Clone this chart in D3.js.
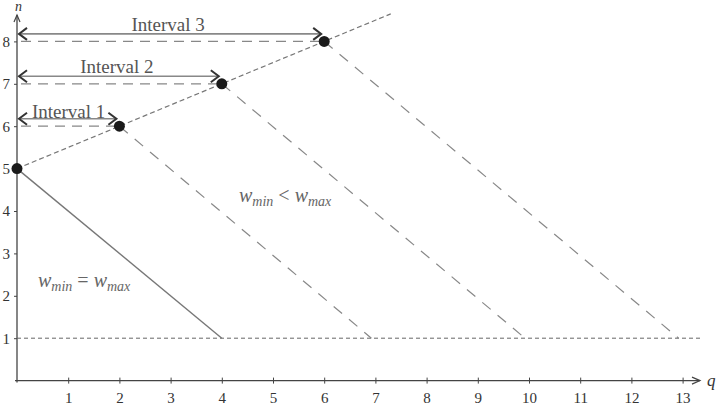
<!DOCTYPE html>
<html>
<head>
<meta charset="utf-8">
<script src="https://cdn.jsdelivr.net/npm/d3@7"></script>
<style>
body { margin: 0; background: #fff; }
svg { display: block; }
svg text { font-family: "Liberation Serif", "Times New Roman", Times, serif; }
.tick text { font-size: 15px; fill: #333; }
</style>
</head>
<body>
<div id="chart"></div>
<script>
// values
var qTicks = [1, 2, 3, 4, 5, 6, 7, 8, 9, 10, 11, 12, 13];
var nTicks = [1, 2, 3, 4, 5, 6, 7, 8];
var pointQ = [0, 2, 4, 6];
var pointN = [5, 6, 7, 8];
var endQ = [4, 7, 10, 13];   // where each line reaches n = 1
var intervalNames = ["Interval 1", "Interval 2", "Interval 3"];
var riseEnd = [7.3, 8.65];   // end of the dotted rising line
var floorN = 1;

var width = 726, height = 413;

var x = d3.scaleLinear().domain([0, 13]).range([17, 17 + 51.2 * 13]);
var y = d3.scaleLinear().domain([0, 8]).range([380.6, 380.6 - 42.4 * 8]);

var svg = d3.select("#chart").append("svg")
    .attr("width", width)
    .attr("height", height);

// x axis
var xAxis = svg.append("g")
    .attr("transform", "translate(0," + y(0) + ")")
    .call(d3.axisBottom(x).tickValues(qTicks).tickSize(3).tickPadding(9).tickFormat(d3.format("d")));
xAxis.select(".domain").remove();
xAxis.selectAll(".tick line").attr("stroke", "#444").attr("y1", -3).attr("y2", 3);

// y axis
var yAxis = svg.append("g")
    .attr("transform", "translate(" + x(0) + ",0)")
    .call(d3.axisLeft(y).tickValues(nTicks).tickSize(3).tickPadding(4).tickFormat(d3.format("d")));
yAxis.select(".domain").remove();
yAxis.selectAll(".tick line").attr("stroke", "#444");

// axis lines with arrows
svg.append("line")
    .attr("x1", x(0) - 2).attr("x2", 700)
    .attr("y1", y(0)).attr("y2", y(0))
    .attr("stroke", "#444").attr("stroke-width", 1.3);
svg.append("path")
    .attr("d", "M692," + (y(0) - 3.5) + "L700," + y(0) + "L692," + (y(0) + 3.5))
    .attr("fill", "none").attr("stroke", "#444").attr("stroke-width", 1.2);
svg.append("line")
    .attr("x1", x(0)).attr("x2", x(0))
    .attr("y1", y(0) + 2).attr("y2", 15)
    .attr("stroke", "#444").attr("stroke-width", 1.3);
svg.append("path")
    .attr("d", "M" + (x(0) - 3) + ",22L" + x(0) + ",15L" + (x(0) + 3) + ",22")
    .attr("fill", "none").attr("stroke", "#444").attr("stroke-width", 1.2);

svg.append("text").text("q")
    .attr("x", 707).attr("y", 386)
    .attr("font-style", "italic")
    .attr("font-size", 17).attr("fill", "#333");
svg.append("text").text("n")
    .attr("x", 15).attr("y", 11)
    .attr("font-style", "italic")
    .attr("font-size", 14).attr("fill", "#333");

// floor line n = 1
svg.append("line")
    .attr("x1", x(0)).attr("x2", 700)
    .attr("y1", y(floorN)).attr("y2", y(floorN))
    .attr("stroke", "#666").attr("stroke-width", 1).attr("stroke-dasharray", "4,3");

// rising dotted line
svg.append("line")
    .attr("x1", x(pointQ[0])).attr("y1", y(pointN[0]))
    .attr("x2", x(riseEnd[0])).attr("y2", y(riseEnd[1]))
    .attr("stroke", "#777").attr("stroke-width", 1.2).attr("stroke-dasharray", "5,3");

// solid line w_min = w_max
svg.append("line")
    .attr("x1", x(pointQ[0])).attr("y1", y(pointN[0]))
    .attr("x2", x(endQ[0])).attr("y2", y(floorN))
    .attr("stroke", "#777").attr("stroke-width", 1.4);

// dashed falling lines + horizontal dashes
for (var i = 1; i < pointQ.length; i++) {
  svg.append("line")
      .attr("x1", x(pointQ[i])).attr("y1", y(pointN[i]))
      .attr("x2", x(endQ[i]) - 4).attr("y2", y(floorN))
      .attr("stroke", "#888").attr("stroke-width", 1.2).attr("stroke-dasharray", "11,9");
  svg.append("line")
      .attr("x1", x(0) + 4).attr("y1", y(pointN[i]))
      .attr("x2", x(pointQ[i])).attr("y2", y(pointN[i]))
      .attr("stroke", "#888").attr("stroke-width", 1.2).attr("stroke-dasharray", "10,7");

  // interval arrow
  var ay = y(pointN[i]) - 7.5;
  var ax1 = x(0) + 2, ax2 = x(pointQ[i]) - 3;
  svg.append("line")
      .attr("x1", ax1).attr("x2", ax2).attr("y1", ay).attr("y2", ay)
      .attr("stroke", "#888").attr("stroke-width", 1.6);
  svg.append("path")
      .attr("d", "M" + (ax1 + 8) + "," + (ay - 6) + "L" + ax1 + "," + ay + "L" + (ax1 + 8) + "," + (ay + 6))
      .attr("fill", "none").attr("stroke", "#333").attr("stroke-width", 2);
  svg.append("path")
      .attr("d", "M" + (ax2 - 8) + "," + (ay - 6) + "L" + ax2 + "," + ay + "L" + (ax2 - 8) + "," + (ay + 6))
      .attr("fill", "none").attr("stroke", "#333").attr("stroke-width", 2);
  svg.append("text").text(intervalNames[i - 1])
      .attr("x", i == 1 ? x(0) + 15 : (ax1 + ax2) / 2 - 2)
      .attr("y", i == 1 ? ay - 1 : ay - 3)
      .attr("text-anchor", i == 1 ? "start" : "middle")
      .attr("font-size", 19).attr("fill", "#555");
}

// points
svg.selectAll(".pt")
    .data(pointQ)
    .enter().append("circle")
    .attr("class", "pt")
    .attr("cx", function(d) { return x(d); })
    .attr("cy", function(d, i) { return y(pointN[i]); })
    .attr("r", 5.5)
    .attr("fill", "#1a1a1a");

// region labels
function wLabel(tx, ty, op) {
  var t = svg.append("text")
      .attr("x", tx).attr("y", ty)
      .attr("font-size", 20).attr("fill", "#666");
  t.append("tspan").attr("font-style", "italic").text("w");
  t.append("tspan").attr("font-style", "italic").attr("font-size", 14).attr("dy", 4).text("min");
  t.append("tspan").attr("dy", -4).text(" " + op + " ");
  t.append("tspan").attr("font-style", "italic").text("w");
  t.append("tspan").attr("font-style", "italic").attr("font-size", 14).attr("dy", 4).text("max");
}
wLabel(38, 287, "=");
wLabel(239, 202, "<");
</script>
</body>
</html>
